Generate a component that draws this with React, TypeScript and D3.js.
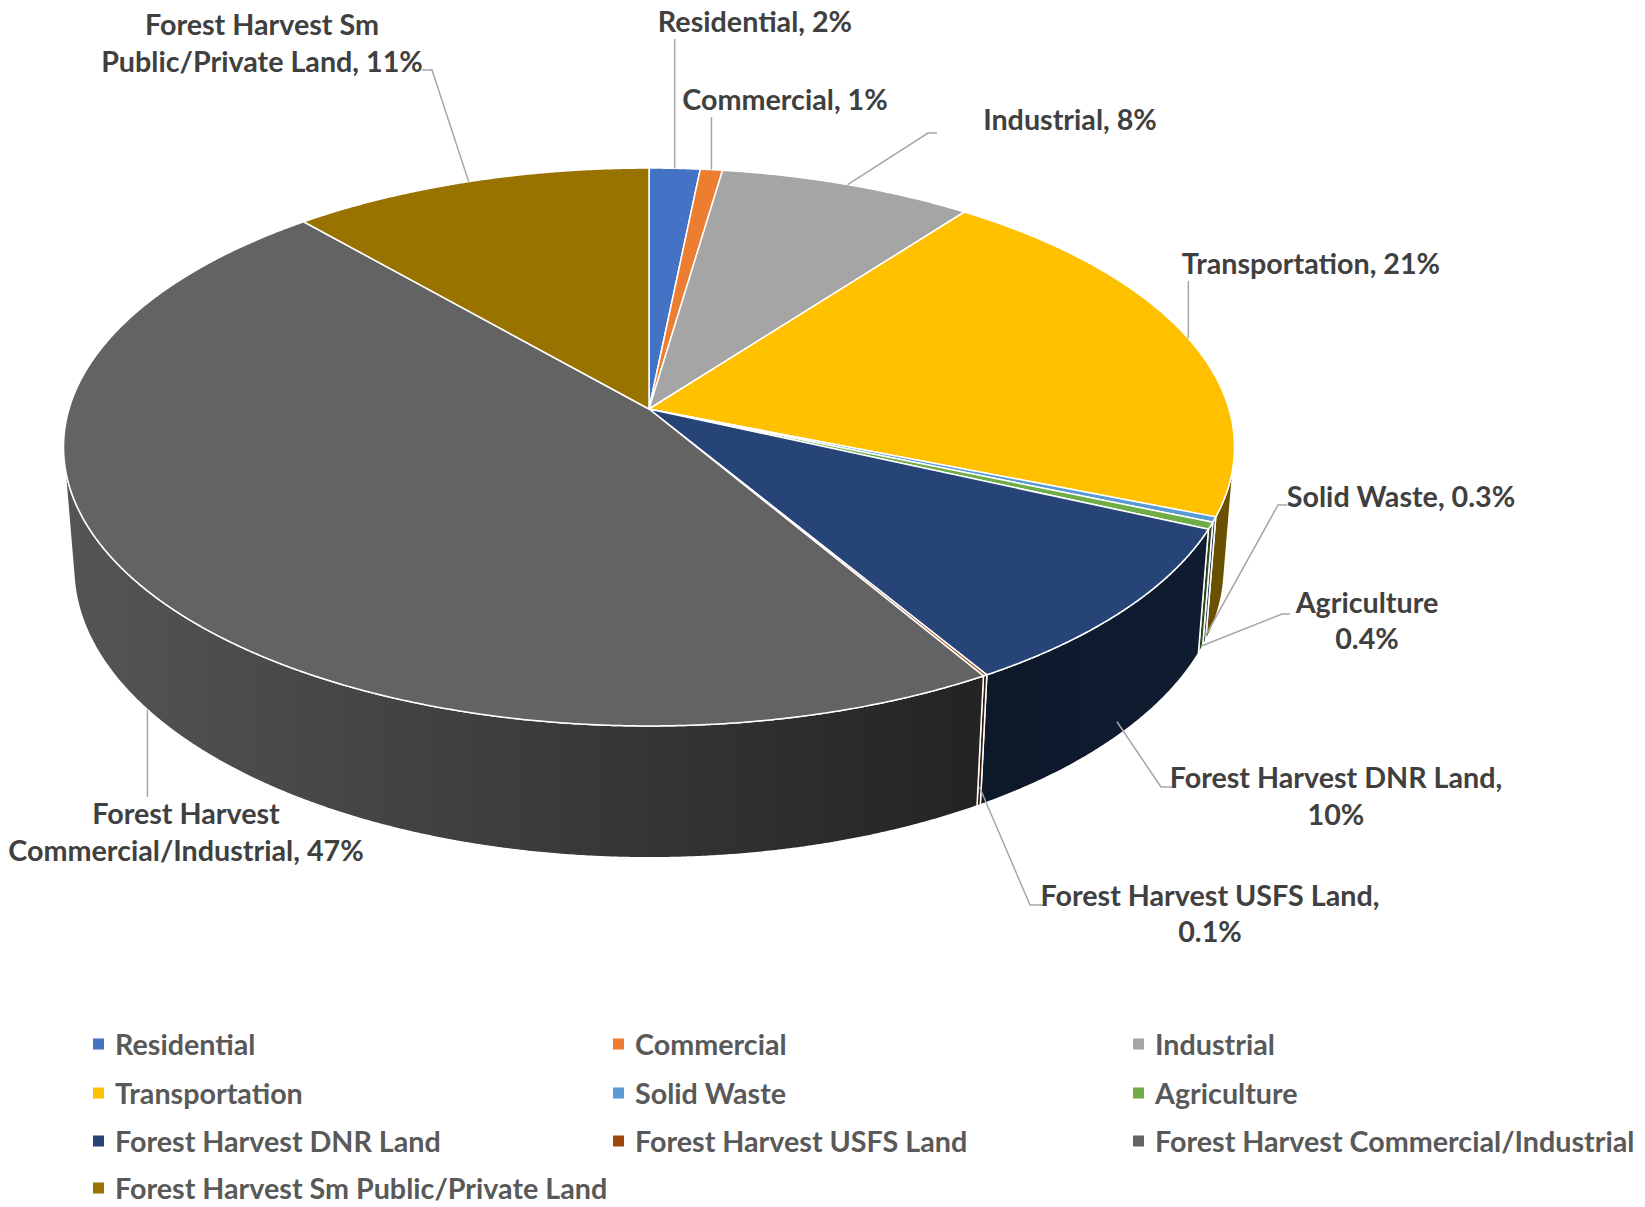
import React from 'react';
import * as d3 from 'd3';

// ---- data ----
const categories = [
  'Residential',
  'Commercial',
  'Industrial',
  'Transportation',
  'Solid Waste',
  'Agriculture',
  'Forest Harvest DNR Land',
  'Forest Harvest USFS Land',
  'Forest Harvest Commercial/Industrial',
  'Forest Harvest Sm Public/Private Land',
];
const values = [1.6, 0.7, 8.0, 20.8, 0.3, 0.4, 9.6, 0.1, 47.1, 11.4];
const percentLabels = ['2%', '1%', '8%', '21%', '0.3%', '0.4%', '10%', '0.1%', '47%', '11%'];
const colors = ['#4472C4', '#ED7D31', '#A5A5A5', '#FFC000', '#5B9BD5', '#70AD47', '#264478', '#9E480E', '#636363', '#997300'];
const labelLines = [
  ['Residential, 2%'],
  ['Commercial, 1%'],
  ['Industrial, 8%'],
  ['Transportation, 21%'],
  ['Solid Waste, 0.3%'],
  ['Agriculture', '0.4%'],
  ['Forest Harvest DNR Land,', '10%'],
  ['Forest Harvest USFS Land,', '0.1%'],
  ['Forest Harvest', 'Commercial/Industrial, 47%'],
  ['Forest Harvest Sm', 'Public/Private Land, 11%'],
];

// ---- layout ----
type Lay = { x: number; y: number[]; elbow?: number[][]; vTop?: number; wall?: number };
const labelLayout: Lay[] = [
  { x: 755, y: [21], vTop: 39 },
  { x: 785, y: [99], vTop: 117 },
  { x: 1070, y: [119], elbow: [[937, 133], [928, 133]] },
  { x: 1311, y: [263], vTop: 281 },
  { x: 1401, y: [496], elbow: [[1287, 505], [1278, 505]], wall: 0.95 },
  { x: 1367, y: [602, 638], elbow: [[1290, 614], [1282, 614]], wall: 0.97 },
  { x: 1336, y: [777, 814], elbow: [[1172, 787], [1161, 787]], wall: 0.88 },
  { x: 1210, y: [895, 931], elbow: [[1044, 905], [1030, 905]], wall: 0.86 },
  { x: 186, y: [813, 850], vTop: 797, wall: 1.0 },
  { x: 262, y: [24, 61], elbow: [[422, 70], [432, 70]] },
];
const legendRows = [1044, 1093, 1141, 1188];
const legendCols = [93, 613, 1133];

const W = 1645, HGT = 1207;
const CX = 649, CY = 409, S = 580, K = 0.1362, SIN_A = 0.472;
const COS_A = Math.sqrt(1 - SIN_A * SIN_A);
const THICK = 0.238;
const DD = COS_A / K;
const F = S * DD;

function proj(t: number, Y: number): [number, number] {
  const X = Math.sin(t), Z = Math.cos(t);
  const yc = Y * COS_A + Z * SIN_A;
  const d = DD + Z * COS_A - Y * SIN_A;
  return [CX + (F * X) / d, CY - (F * yc) / d];
}

const FONT = "Lato, 'Open Sans', sans-serif";
const FS = 28.7;

export default function App() {
  const pie = d3.pie<number>().sort(null).value((d) => d);
  const arcs = pie(values);
  const vmin = Math.acos(-1 / (DD * COS_A));
  const vmax = 2 * Math.PI - vmin;
  const step = Math.PI / 720;

  const line = d3.line();

  const arcPts = (a0: number, a1: number, Y: number) => {
    const n = Math.max(2, Math.ceil((a1 - a0) / step));
    return d3.range(n + 1).map((i) => proj(a0 + ((a1 - a0) * i) / n, Y));
  };

  const gradStops = [
    [0, 0.86],
    [0.786, 0.35],
    [1, 0.42],
  ];
  const shade = (c: string, b: number) => {
    const r = d3.rgb(c);
    return d3.rgb(r.r * b, r.g * b, r.b * b).formatHex();
  };

  const walls = arcs.map((a, i) => {
    const s0 = Math.max(a.startAngle, vmin);
    const s1 = Math.min(a.endAngle, vmax);
    if (s1 <= s0) return null;
    const top = arcPts(s0, s1, 0);
    const bot = arcPts(s0, s1, -THICK).reverse();
    return (
      <path key={'w' + i} d={line([...top, ...bot])! + 'Z'} fill={`url(#g${i})`} stroke="#fff" strokeWidth={1.5} strokeLinejoin="round" />
    );
  });

  const tops = arcs.map((a, i) => {
    const pts = [[CX, CY], ...arcPts(a.startAngle, a.endAngle, 0)] as [number, number][];
    return <path key={'t' + i} d={line(pts)! + 'Z'} fill={colors[i]} stroke="#fff" strokeWidth={1.5} strokeLinejoin="round" />;
  });

  const labels = arcs.map((a, i) => {
    const L = labelLayout[i];
    const mid = (a.startAngle + a.endAngle) / 2;
    let anchor: [number, number];
    if (L.wall !== undefined) {
      const p0 = proj(mid, 0), p1 = proj(mid, -THICK);
      anchor = [p0[0] + (p1[0] - p0[0]) * L.wall, p0[1] + (p1[1] - p0[1]) * L.wall];
    } else {
      anchor = proj(mid, 0);
    }
    let pts: [number, number][];
    if (L.vTop !== undefined) pts = [[anchor[0], L.vTop], anchor];
    else pts = [...(L.elbow as [number, number][]), anchor];
    return (
      <g key={'l' + i}>
        <path d={line(pts)!} fill="none" stroke="#A6A6A6" strokeWidth={1.5} />
        {labelLines[i].map((s, j) => (
          <text key={j} x={L.x} y={L.y[j]} textAnchor="middle" dominantBaseline="central" fontFamily={FONT} fontWeight={700} fontSize={FS} fill="#404040">
            {s}
          </text>
        ))}
      </g>
    );
  });

  const legend = categories.map((c, i) => {
    const x = legendCols[i % 3];
    const y = legendRows[Math.floor(i / 3)];
    return (
      <g key={'lg' + i}>
        <rect x={x} y={y - 5.5} width={11} height={11} fill={colors[i]} />
        <text x={x + 22} y={y} dominantBaseline="central" fontFamily={FONT} fontWeight={700} fontSize={FS} fill="#595959">
          {c}
        </text>
      </g>
    );
  });

  return (
    <svg width={W} height={HGT} style={{ position: 'absolute', left: 0, top: 0, background: '#fff' }}>
      <defs>
        {colors.map((c, i) => (
          <linearGradient key={i} id={`g${i}`} gradientUnits="userSpaceOnUse" x1={65} x2={1235} y1={0} y2={0}>
            {gradStops.map(([o, b], j) => (
              <stop key={j} offset={o} stopColor={shade(c, b)} />
            ))}
          </linearGradient>
        ))}
      </defs>
      <rect width={W} height={HGT} fill="#fff" />
      {walls}
      {tops}
      {labels}
      {legend}
    </svg>
  );
}
